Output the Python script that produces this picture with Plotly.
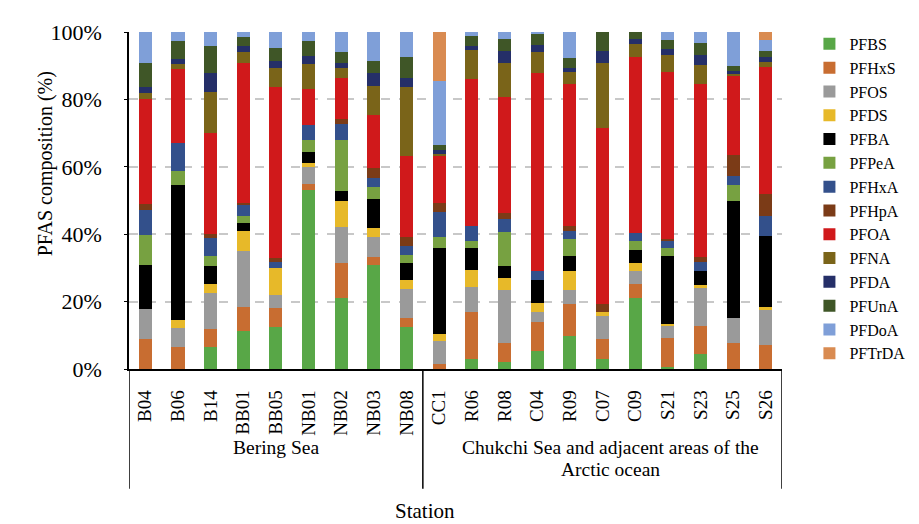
import plotly.graph_objects as go

stations = ["B04", "B06", "B14", "BB01", "BB05", "NB01", "NB02", "NB03", "NB08",
            "CC1", "R06", "R08", "C04", "R09", "C07", "C09", "S21", "S23", "S25", "S26"]

PFBS   = [0, 0, 6.4, 11.4, 12.4, 53.1, 21.0, 30.9, 12.4, 0, 2.9, 2.2, 5.4, 9.8, 3.1, 21.2, 0.5, 4.6, 0, 0]
PFHxS  = [8.9, 6.4, 5.4, 6.9, 5.7, 1.9, 10.5, 2.2, 2.6, 1.6, 13.9, 5.5, 8.6, 9.6, 5.8, 3.9, 8.8, 8.3, 7.7, 7.0]
PFOS   = [9.0, 5.7, 10.8, 16.8, 3.9, 4.9, 10.7, 6.2, 8.8, 6.7, 7.5, 15.8, 2.8, 3.9, 6.9, 4.0, 3.6, 11.1, 7.3, 10.4]
PFDS   = [0, 2.5, 2.7, 5.9, 8.0, 1.2, 7.7, 2.6, 2.6, 2.1, 5.1, 3.6, 2.9, 5.7, 1.0, 2.5, 0.6, 0.8, 0, 0.9]
PFBA   = [12.9, 39.9, 5.4, 2.4, 0, 3.4, 2.9, 8.6, 5.1, 25.5, 6.4, 3.5, 6.7, 4.6, 0, 3.7, 19.9, 4.2, 35.0, 21.3]
PFPeA  = [9.0, 4.3, 2.8, 1.9, 0, 3.6, 15.2, 3.6, 2.4, 3.3, 2.2, 10.0, 0, 4.9, 0, 2.8, 2.6, 0, 4.5, 0]
PFHxA  = [7.4, 8.2, 5.5, 3.3, 1.9, 4.4, 4.7, 2.7, 2.6, 7.4, 4.5, 3.8, 2.8, 2.5, 0, 2.3, 2.1, 2.8, 2.9, 5.7]
PFHpA  = [1.8, 0, 1.2, 0.8, 1.1, 0, 1.6, 2.7, 2.7, 2.8, 0, 1.9, 0, 1.5, 2.4, 0, 0.6, 1.3, 6.0, 6.7]
PFOA   = [31.0, 22.0, 29.9, 41.4, 50.6, 10.7, 12.1, 16.0, 24.1, 13.8, 43.7, 34.5, 58.6, 42.1, 52.2, 52.2, 49.5, 51.6, 23.6, 37.5]
PFNA   = [1.8, 1.4, 12.2, 3.4, 5.7, 7.2, 2.9, 8.4, 20.4, 0.7, 8.5, 10.1, 6.4, 3.4, 19.4, 3.8, 5.1, 5.6, 0.5, 1.6]
PFDA   = [1.8, 1.5, 5.4, 1.7, 2.1, 2.6, 1.6, 4.0, 2.6, 1.1, 1.1, 3.6, 2.0, 1.3, 3.6, 1.5, 1.8, 2.9, 0.8, 1.5]
PFUnA  = [7.3, 5.3, 8.2, 2.5, 3.9, 4.4, 3.2, 3.6, 6.2, 1.5, 3.0, 3.5, 3.1, 3.1, 5.6, 2.4, 2.6, 3.4, 1.5, 1.8]
PFDoA  = [9.2, 2.8, 4.0, 1.7, 4.7, 2.8, 6.0, 8.7, 7.6, 18.9, 1.2, 2.2, 0.8, 7.6, 0, 0, 2.5, 3.5, 10.2, 3.3]
PFTrDA = [0, 0, 0, 0, 0, 0, 0, 0, 0, 14.6, 0, 0, 0, 0, 0, 0, 0, 0, 0, 2.4]

compounds = ["PFBS", "PFHxS", "PFOS", "PFDS", "PFBA", "PFPeA", "PFHxA", "PFHpA",
             "PFOA", "PFNA", "PFDA", "PFUnA", "PFDoA", "PFTrDA"]
values = [PFBS, PFHxS, PFOS, PFDS, PFBA, PFPeA, PFHxA, PFHpA,
          PFOA, PFNA, PFDA, PFUnA, PFDoA, PFTrDA]
colors = ["#58a747", "#c86d31", "#9a9a9a", "#e7b929", "#000000", "#77a141",
          "#33508b", "#7b3b17", "#d0191b", "#7a6419", "#252f68", "#3f5627",
          "#7f9fd8", "#d98b51"]

group_names = ["Bering Sea", "Chukchi Sea and adjacent areas of the", "Arctic ocean"]
y_ticks = [0, 20, 40, 60, 80, 100]
y_ticktext = ["0%", "20%", "40%", "60%", "80%", "100%"]

FONT = "Liberation Serif, Times New Roman, serif"

fig = go.Figure()
for name, vals, col in zip(compounds, values, colors):
    fig.add_trace(go.Bar(x=stations, y=vals, name=name,
                         marker=dict(color=col, line=dict(width=0))))

fig.update_layout(
    barmode="stack",
    bargap=0.6,
    width=919, height=524,
    margin=dict(l=121, r=145, t=24, b=162.5, autoexpand=False),
    paper_bgcolor="white", plot_bgcolor="white",
    font=dict(family=FONT, color="black"),
    legend=dict(x=1.042, xanchor="left", y=1.015, yanchor="top",
                traceorder="normal", maxheight=500,
                font=dict(size=16, family=FONT), tracegroupgap=0,
                bgcolor="rgba(0,0,0,0)"),
    showlegend=True,
)

fig.update_yaxes(range=[0, 100], tickvals=y_ticks, ticktext=y_ticktext,
                 tickfont=dict(size=22, family=FONT),
                 showgrid=True, gridcolor="#c8c8c8", gridwidth=1.5, griddash="dash",
                 showline=True, linecolor="black", linewidth=1.5,
                 ticks="outside", ticklen=3, tickcolor="black",
                 ticklabelstandoff=18, zeroline=False)
fig.update_xaxes(type="category", tickangle=-90,
                 tickfont=dict(size=19, family=FONT),
                 showline=True, linecolor="black", linewidth=1.5,
                 ticks="", ticklabelstandoff=12, showgrid=False,
                 range=[-0.5, 19.5])

# group dividers below the axis
for xv in [-0.5, 8.5, 19.5]:
    fig.add_shape(type="line", xref="x", yref="paper", x0=xv, x1=xv, y0=0, y1=-0.355,
                  line=dict(color="black", width=1.5))

fig.add_annotation(x=4, xref="x", y=-0.271, yref="paper", text=group_names[0],
                   showarrow=False, font=dict(size=19.5, family=FONT))
fig.add_annotation(x=14.25, xref="x", y=-0.271, yref="paper", text=group_names[1],
                   showarrow=False, font=dict(size=19.5, family=FONT))
fig.add_annotation(x=14.25, xref="x", y=-0.336, yref="paper", text=group_names[2],
                   showarrow=False, font=dict(size=19.5, family=FONT))

fig.add_annotation(x=-0.1485, xref="paper", y=0.609, yref="paper",
                   text="PFAS composition (%)", textangle=-90, showarrow=False,
                   font=dict(size=20, family=FONT))
fig.add_annotation(x=0.454, xref="paper", y=-0.463, yref="paper",
                   text="Station", showarrow=False, font=dict(size=21, family=FONT))

fig.write_html("out.html")
